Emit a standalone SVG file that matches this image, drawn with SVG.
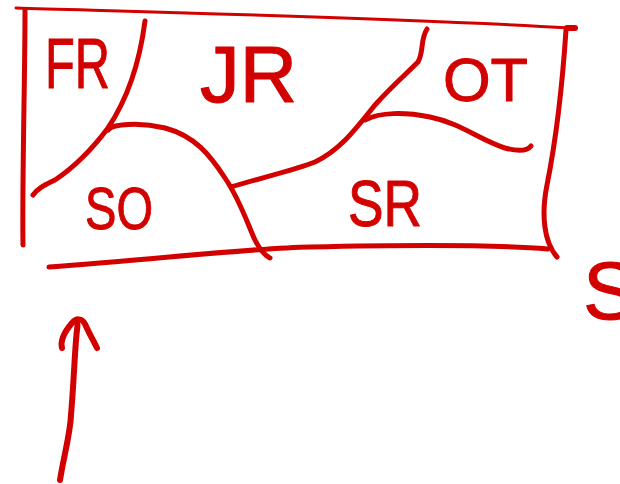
<svg xmlns="http://www.w3.org/2000/svg" width="620" height="484" viewBox="0 0 620 484">
  <style>
    .ink { fill: none; stroke: #d30000; stroke-linecap: round; stroke-linejoin: round; }
    .thin { stroke-width: 3; }
    .med { stroke-width: 5; }
    .thick { stroke-width: 6; }
    .label { font-family: "Liberation Sans", Arial, sans-serif; fill: #d30000; stroke: #d30000; stroke-width: 1; stroke-linejoin: round; }
  </style>
  <rect width="620" height="484" fill="#ffffff"/>

  <!-- outer box -->
  <g id="frame">
    <path class="ink thin" d="M16 8 C 150 12, 400 18, 570 28"/>
    <path class="ink med" d="M25 10 C 25 80, 22 180, 23 245"/>
    <path class="ink thick" d="M567 28 L 575 28"/>
    <path class="ink med" d="M566 30 C 562 90, 556 140, 547 185 C 541 215, 544 242, 557 257"/>
    <path class="ink med" d="M49 267 C 150 260, 250 248, 310 247 C 400 245, 500 245, 548 249"/>
  </g>

  <!-- boundaries between the regions -->
  <g id="connectors">
    <path class="ink med" d="M145 21 C 140 60, 130 95, 108 128 C 90 152, 70 170, 55 180 C 45 185, 38 188, 33 195"/>
    <path class="ink med" d="M108 130 C 112 124, 140 122, 165 128 C 195 136, 210 155, 225 178 C 240 200, 248 225, 255 240 C 260 250, 264 255, 270 258"/>
    <path class="ink med" d="M231 187 C 260 178, 295 170, 315 162 C 340 150, 355 130, 375 105 C 390 88, 405 75, 418 62 C 424 52, 420 40, 427 29"/>
    <path class="ink med" d="M365 120 C 380 112, 405 112, 430 117 C 460 123, 480 140, 505 148 C 520 152, 528 150, 531 146"/>
  </g>

  <!-- region labels -->
  <g id="node-fr"><text class="label" x="45" y="88" font-size="71" textLength="65" lengthAdjust="spacingAndGlyphs">FR</text></g>
  <g id="node-jr"><text class="label" transform="translate(200 102) scale(1 1.18)" x="0" y="0" font-size="68" textLength="97" lengthAdjust="spacingAndGlyphs">JR</text></g>
  <g id="node-ot"><text class="label" x="443" y="101" font-size="62" textLength="85" lengthAdjust="spacingAndGlyphs">OT</text></g>
  <g id="node-so"><text class="label" x="85" y="229" font-size="60" textLength="68" lengthAdjust="spacingAndGlyphs">SO</text></g>
  <g id="node-sr"><text class="label" x="348" y="226" font-size="65" textLength="74" lengthAdjust="spacingAndGlyphs">SR</text></g>
  <g id="node-s"><text class="label" x="583" y="319" font-size="81">S</text></g>

  <!-- upward arrow -->
  <g id="arrow">
    <path class="ink thick" d="M60 480 C 64 455, 70 435, 71 415 C 74 380, 75 345, 77 330 C 78 324, 77 322, 76 321"/>
    <path class="ink thick" d="M62 348 C 60 340, 66 330, 72 323 C 76 318, 82 318, 85 324 C 89 333, 93 340, 97 348"/>
  </g>
</svg>
